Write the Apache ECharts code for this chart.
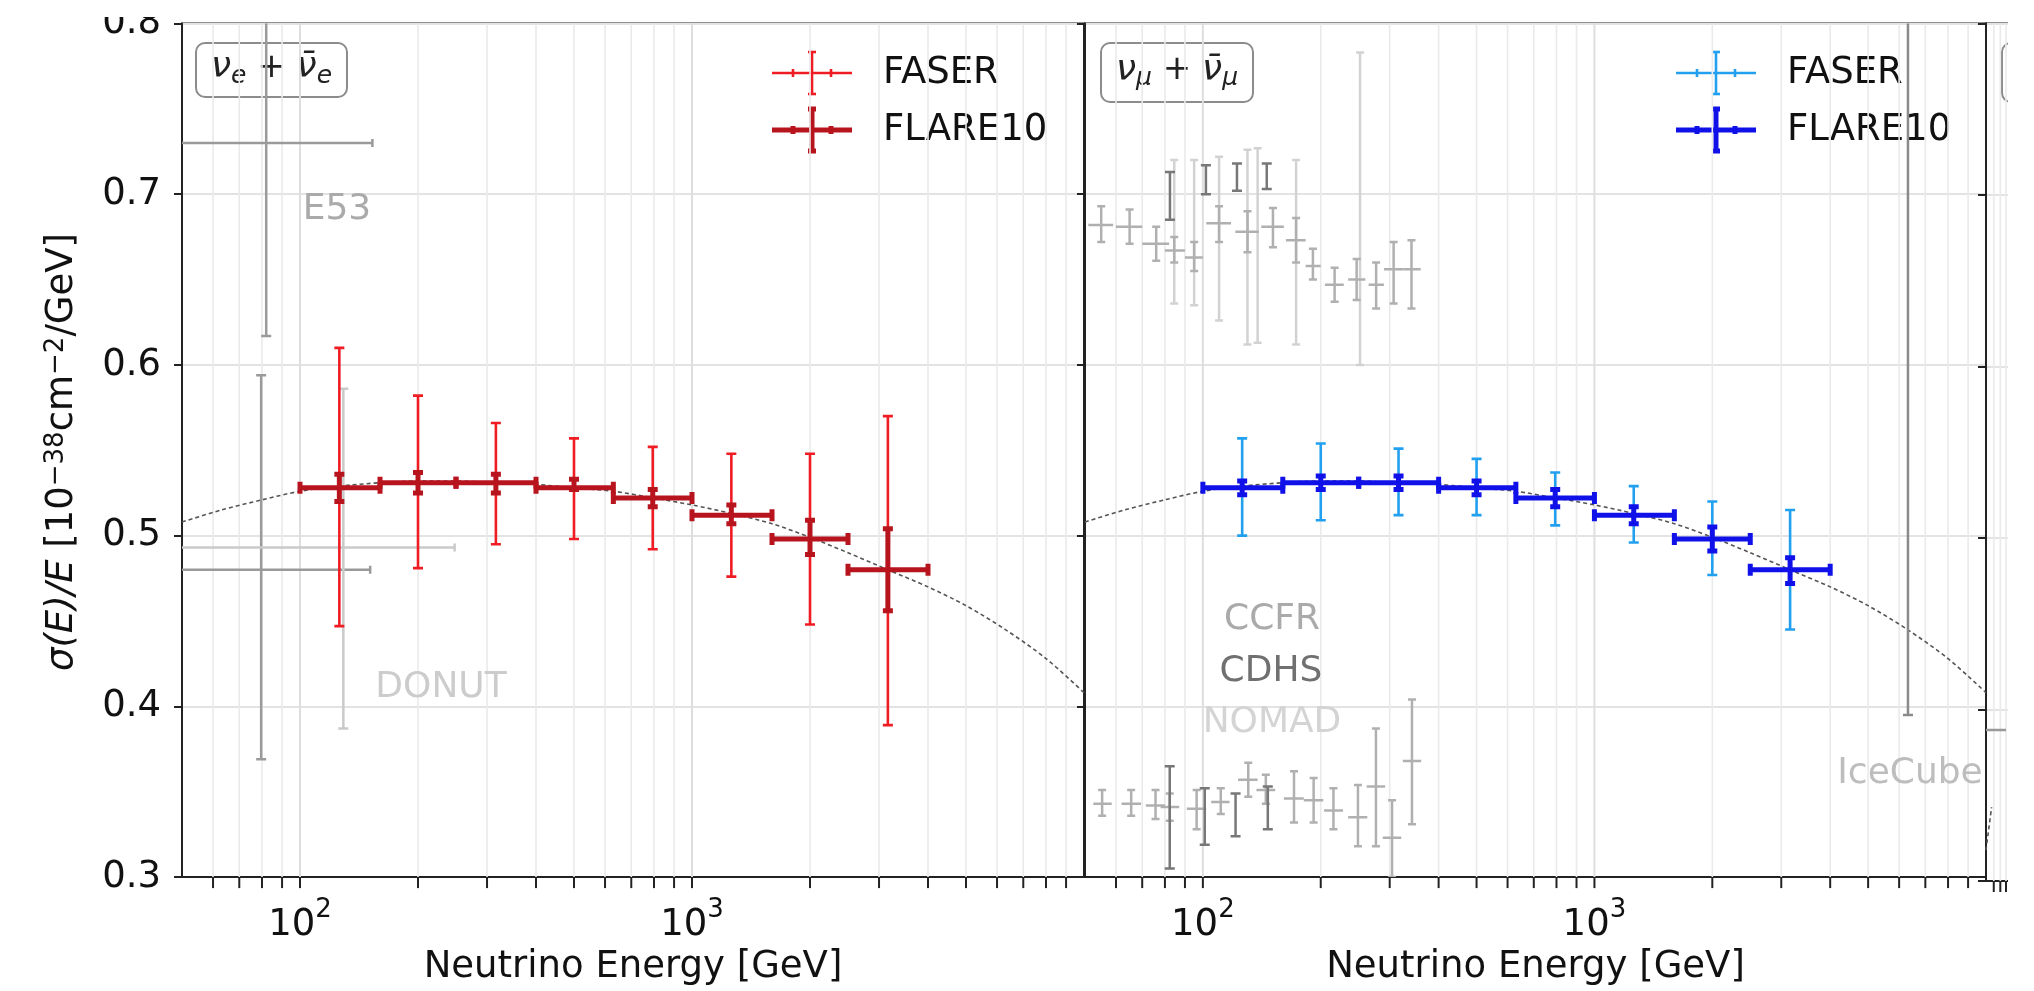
<!DOCTYPE html>
<html><head><meta charset="utf-8">
<script src="https://cdn.jsdelivr.net/npm/echarts@6/dist/echarts.min.js"></script>
<style>html,body{margin:0;padding:0;background:#fff}#c{width:2034px;height:991px}</style>
</head><body><div id="c"></div>
<script>
// ---------------- data ----------------
const binLo     = [100, 160, 250, 400, 630, 1000, 1600, 2500];
const binHi     = [160, 250, 400, 630, 1000, 1600, 2500, 4000];
const binCenter = [126, 200, 316, 500, 794, 1260, 2000, 3160];
const central   = [0.528, 0.531, 0.531, 0.528, 0.522, 0.512, 0.498, 0.480];
const faserNuELo = [0.447, 0.481, 0.495, 0.498, 0.492, 0.476, 0.448, 0.389];
const faserNuEHi = [0.610, 0.582, 0.566, 0.557, 0.552, 0.548, 0.548, 0.570];
const flareNuELo = [0.520, 0.525, 0.525, 0.527, 0.517, 0.507, 0.489, 0.456];
const flareNuEHi = [0.536, 0.537, 0.536, 0.533, 0.527, 0.518, 0.509, 0.504];
const faserNuMuLo = [0.500, 0.509, 0.512, 0.512, 0.506, 0.496, 0.477, 0.445];
const faserNuMuHi = [0.557, 0.554, 0.551, 0.545, 0.537, 0.529, 0.520, 0.515];
const flareNuMuLo = [0.524, 0.527, 0.527, 0.524, 0.517, 0.507, 0.491, 0.472];
const flareNuMuHi = [0.532, 0.535, 0.535, 0.532, 0.527, 0.517, 0.505, 0.487];
const theoryE = [50, 63, 80, 100, 126, 160, 200, 250, 316, 400, 500, 630, 800, 1000, 1260, 1600, 2000, 2500, 3160, 4000, 5000, 6300, 8000, 10000];
const theoryV = [0.508, 0.515, 0.521, 0.526, 0.529, 0.531, 0.532, 0.532, 0.531, 0.530, 0.528, 0.526, 0.522, 0.518, 0.513, 0.507, 0.499, 0.490, 0.480, 0.470, 0.459, 0.445, 0.428, 0.408];
const theoryTauE = [50, 57];
const theoryTauV = [0.318, 0.343];
// gray measurements: [E, value, E_low, E_high, value_low, value_high]
const e53NuE   = [[82, 0.730, 30, 153, 0.617, 0.95], [79.6, 0.480, 30, 151, 0.369, 0.594]];
const donutNuE = [[129, 0.493, 30, 248, 0.387, 0.586]];
const ccfrNuMu = [
  [55,0.682,51,59,0.672,0.693],[65,0.681,60,70,0.671,0.691],[76,0.671,70,82,0.661,0.681],[84.5,0.667,80,90,0.660,0.675],
  [95,0.663,90,100,0.655,0.672],[110,0.683,102,118,0.672,0.693],[130,0.678,121,139,0.666,0.690],[151,0.681,141,161,0.669,0.692],
  [173,0.673,163,183,0.660,0.686],[191,0.658,183,200,0.650,0.668],[217,0.647,205,229,0.637,0.657],[247,0.650,235,260,0.638,0.662],
  [277,0.647,265,290,0.633,0.660],[307,0.656,290,325,0.636,0.672],[341,0.656,325,360,0.633,0.673],
  [55.3,0.343,52.5,58.5,0.336,0.351],[65.6,0.343,62,69.5,0.336,0.351],[75.7,0.342,71.5,80,0.334,0.351],[82.3,0.341,78,87,0.333,0.349],
  [96.4,0.340,91,102,0.328,0.351],[111.1,0.344,105,117,0.337,0.352],[130.6,0.357,123,138,0.347,0.367],[144.8,0.351,137,153,0.343,0.360],
  [170.9,0.346,161,181,0.332,0.362],[191.8,0.345,181,203,0.332,0.358],[215.5,0.339,204,228,0.328,0.352],[248.9,0.335,235,263,0.318,0.354],
  [276.7,0.353,262,292,0.318,0.387],[304.2,0.323,288,321,0.300,0.345],[342,0.368,324,361,0.331,0.404]
];
const cdhsNuMu = [
  [82.4,0.699,null,null,0.685,0.713],[101.8,0.708,null,null,0.700,0.717],[122.2,0.710,null,null,0.702,0.718],[145.6,0.710,null,null,0.703,0.718],
  [82.3,0.335,null,null,0.305,0.365],[101.1,0.336,null,null,0.319,0.352],[121.2,0.337,null,null,0.324,0.349],[146.5,0.341,null,null,0.328,0.353]
];
const nomadNuMu = [
  [84.5,0.678,null,null,0.636,0.720],[95,0.678,null,null,0.635,0.720],[110,0.674,null,null,0.626,0.722],[130,0.669,null,null,0.612,0.726],
  [138,0.670,null,null,0.613,0.727],[173,0.666,null,null,0.612,0.720],[252,0.690,null,null,0.600,0.783]
];
const iceCubeNuMu = [[6320, 0.95, null, null, 0.395, 1.2]];
const nuTauGray = [[45, 0.388, 30, 80, null, null]];
const gridE = [60,70,80,90,100,200,300,400,500,600,700,800,900,1000,2000,3000,4000,5000,6000,7000,8000,9000];
const majorE = [100, 1000];

// ---------------- helpers ----------------
const FONT = 'DejaVu Sans';
function binData(lo, hi) {
  return binCenter.map((c, i) => [c, central[i], binLo[i], binHi[i], lo[i], hi[i]]);
}
function ebSeries(idx, data, color, width, capX, capY, z) {
  return {
    type: 'custom', xAxisIndex: idx, yAxisIndex: idx, clip: true, z: z, silent: true,
    data: data,
    renderItem: function (params, api) {
      const E = api.value(0), v = api.value(1), xl = api.value(2), xh = api.value(3), yl = api.value(4), yh = api.value(5);
      const st = { stroke: color, lineWidth: width };
      const ch = [];
      function seg(a, b) { ch.push({ type: 'line', shape: { x1: a[0], y1: a[1], x2: b[0], y2: b[1] }, style: st }); }
      if (isFinite(xl) && isFinite(xh) && xl > 0) {
        const a = api.coord([xl, v]), b = api.coord([xh, v]);
        seg(a, b);
        if (capX > 0) { seg([a[0], a[1] - capX], [a[0], a[1] + capX]); seg([b[0], b[1] - capX], [b[0], b[1] + capX]); }
      }
      if (isFinite(yl) && isFinite(yh)) {
        const a = api.coord([E, yl]), b = api.coord([E, yh]);
        seg(a, b);
        if (capY > 0) { seg([a[0] - capY, a[1]], [a[0] + capY, a[1]]); seg([b[0] - capY, b[1]], [b[0] + capY, b[1]]); }
      }
      return { type: 'group', children: ch };
    }
  };
}
function gridSeries(idx) {
  return {
    type: 'custom', xAxisIndex: idx, yAxisIndex: idx, silent: true, z: 1, clip: false,
    data: [[100, 0.5]],
    renderItem: function (params, api) {
      const ch = [];
      gridE.forEach(E => {
        const t = api.coord([E, 0.8]), b = api.coord([E, 0.3]);
        const major = majorE.indexOf(E) >= 0;
        ch.push({ type: 'line', shape: { x1: t[0], y1: t[1], x2: b[0], y2: b[1] },
          style: { stroke: major ? '#dedede' : '#eaeaea', lineWidth: major ? 2 : 1.6 } });
        ch.push({ type: 'line', shape: { x1: b[0], y1: b[1], x2: b[0], y2: b[1] + 11 },
          style: { stroke: '#222', lineWidth: 2 } });
      });
      return { type: 'group', children: ch };
    }
  };
}
function theorySeries(idx, xs, ys) {
  return {
    type: 'line', xAxisIndex: idx, yAxisIndex: idx, z: 3, silent: true, symbol: 'none', smooth: 0.3,
    data: xs.map((e, i) => [e, ys[i]]),
    lineStyle: { color: '#555', width: 1.6, type: [4, 3] }
  };
}
function makeGrid(left, width) {
  return { left: left, top: 23.5, width: width, height: 857.5, show: true, borderColor: '#222', borderWidth: 2, backgroundColor: 'transparent' };
}
function makeX(idx) {
  return {
    type: 'log', logBase: 10, min: 50, max: 10000, gridIndex: idx,
    name: idx < 2 ? 'Neutrino Energy [GeV]' : '', nameLocation: 'middle', nameGap: 62,
    nameTextStyle: { fontFamily: FONT, fontSize: 37, color: '#111' },
    axisLine: { show: true, lineStyle: { color: '#222', width: 2 } },
    axisTick: { show: false }, splitLine: { show: false }, minorTick: { show: false },
    axisLabel: {
      show: idx < 2,
      margin: 20, fontFamily: FONT, fontSize: 37, color: '#111',
      formatter: function (v) {
        const l = Math.log10(v), r = Math.round(l);
        if (Math.abs(l - r) < 1e-6 && (r === 2 || r === 3)) return '{b|10}{s|' + r + '}';
        return '';
      },
      rich: {
        b: { fontFamily: FONT, fontSize: 37, color: '#111', padding: [10, 0, 0, 0] },
        s: { fontFamily: FONT, fontSize: 26, color: '#111', verticalAlign: 'top' }
      }
    }
  };
}
function makeY(idx) {
  return {
    type: 'value', min: 0.3, max: 0.8, interval: 0.1, gridIndex: idx,
    axisLine: { show: true, lineStyle: { color: '#222', width: 2 } },
    axisTick: { show: true, inside: false, length: 8, lineStyle: { color: '#222', width: 2 } },
    splitLine: { show: true, lineStyle: { color: '#e3e3e3', width: 2 } },
    axisLabel: {
      show: idx === 0, margin: 21, fontFamily: FONT, fontSize: 37, color: '#111',
      formatter: v => v.toFixed(1)
    }
  };
}
function legendItem(cx, cy, color, w, label) {
  const st = { stroke: color, lineWidth: w };
  const L = (x1, y1, x2, y2) => ({ type: 'line', shape: { x1: cx + x1, y1: cy + y1, x2: cx + x2, y2: cy + y2 }, style: st });
  return [
    L(-40, 0, 40, 0), L(0, -21, 0, 21),
    L(-19, -4, -19, 4), L(19, -4, 19, 4),
    L(-4, -21, 4, -21), L(-4, 21, 4, 21),
    { type: 'text', x: cx + 71, y: cy, style: { text: label, fontFamily: FONT, fontSize: 37, fill: '#111', textVerticalAlign: 'middle' } }
  ];
}
function labelBox(x, y, w, h, flavor) {
  return {
    type: 'group', children: [
      { type: 'rect', shape: { x: x, y: y, width: w, height: h, r: 9 }, style: { fill: '#fff', stroke: '#8c8c8c', lineWidth: 2 } },
      { type: 'text', x: x + w / 2, y: y + h / 2 - 2, style: {
        text: '{n|ν}{s|' + flavor + '}{p| + }{n|ν̄}{s|' + flavor + '}',
        textAlign: 'center', textVerticalAlign: 'middle',
        rich: {
          n: { fontFamily: FONT, fontStyle: 'italic', fontSize: 36, fill: '#222' },
          s: { fontFamily: FONT, fontStyle: 'italic', fontSize: 25, fill: '#222', padding: [16, 0, 0, 0] },
          p: { fontFamily: FONT, fontSize: 34, fill: '#222' }
        } } }
    ]
  };
}
function grayText(x, y, txt, color) {
  return { type: 'text', x: x, y: y, z: 5, style: { text: txt, fontFamily: FONT, fontSize: 36, fill: color, textAlign: 'center', textVerticalAlign: 'middle' } };
}

const chart = echarts.init(document.getElementById('c'), null, { renderer: 'canvas' });
const option = {
  animation: false,
  backgroundColor: '#fff',
  grid: [makeGrid(182, 902), makeGrid(1085, 901), makeGrid(1986, 902)],
  xAxis: [makeX(0), makeX(1), makeX(2)],
  yAxis: [makeY(0), makeY(1), makeY(2)],
  series: [
    gridSeries(0), gridSeries(1), gridSeries(2),
    // panel 1: nu_e
    ebSeries(0, e53NuE, '#9a9a9a', 2.5, 4, 5, 4),
    ebSeries(0, donutNuE, '#cacaca', 2.5, 4, 5, 4),
    theorySeries(0, theoryE, theoryV),
    ebSeries(0, binData(faserNuELo, faserNuEHi), '#f01c24', 2.6, 5, 5, 6),
    ebSeries(0, binData(flareNuELo, flareNuEHi), '#b8141e', 5, 6, 5, 7),
    // panel 2: nu_mu
    ebSeries(1, nomadNuMu, '#d2d2d2', 2.5, 0, 4, 4),
    ebSeries(1, ccfrNuMu, '#b0b0b0', 2.5, 0, 4, 4),
    ebSeries(1, cdhsNuMu, '#777777', 2.5, 0, 5, 4),
    ebSeries(1, iceCubeNuMu, '#8a8a8a', 2.5, 0, 5, 4),
    theorySeries(1, theoryE, theoryV),
    ebSeries(1, binData(faserNuMuLo, faserNuMuHi), '#22a0f0', 2.6, 5, 5, 6),
    ebSeries(1, binData(flareNuMuLo, flareNuMuHi), '#1010e8', 5, 6, 5, 7),
    // panel 3 (partially visible)
    ebSeries(2, nuTauGray, '#999999', 2.5, 0, 4, 4),
    theorySeries(2, theoryTauE, theoryTauV)
  ],
  graphic: [
    {
      type: 'text', x: 62, y: 452, rotation: Math.PI / 2,
      style: {
        text: '{i|σ(E)/E} [10{s|−38}cm{s|−2}/GeV]', textAlign: 'center', textVerticalAlign: 'middle',
        fontFamily: FONT, fontSize: 37, fill: '#111',
        rich: {
          i: { fontFamily: FONT, fontStyle: 'italic', fontSize: 37, fill: '#111' },
          s: { fontFamily: FONT, fontSize: 26, fill: '#111', verticalAlign: 'top' }
        }
      }
    },
    labelBox(196, 43, 151, 54, 'e'),
    labelBox(1101, 43, 152, 59, 'μ'),
    labelBox(2002, 43, 152, 59, 'τ'),
    grayText(337, 210, 'E53', '#aaaaaa'),
    grayText(441, 688, 'DONUT', '#cccccc'),
    grayText(1272, 620, 'CCFR', '#aaaaaa'),
    grayText(1271, 672, 'CDHS', '#707070'),
    grayText(1272, 723, 'NOMAD', '#d4d4d4'),
    grayText(1910, 774, 'IceCube', '#bdbdbd'),
    { type: 'group', children: legendItem(812, 73, '#f01c24', 2.6, 'FASER') },
    { type: 'group', children: legendItem(812, 130, '#b8141e', 5, 'FLARE10') },
    { type: 'group', children: legendItem(1716, 73, '#22a0f0', 2.6, 'FASER') },
    { type: 'group', children: legendItem(1716, 130, '#1010e8', 5, 'FLARE10') },
    { type: 'rect', z: 100, shape: { x: 2008, y: 0, width: 30, height: 991 }, style: { fill: '#fff' } },
    { type: 'rect', z: 100, shape: { x: 0, y: 0, width: 176, height: 17 }, style: { fill: '#fff' } }
  ]
};
chart.setOption(option);
</script>
</body></html>
